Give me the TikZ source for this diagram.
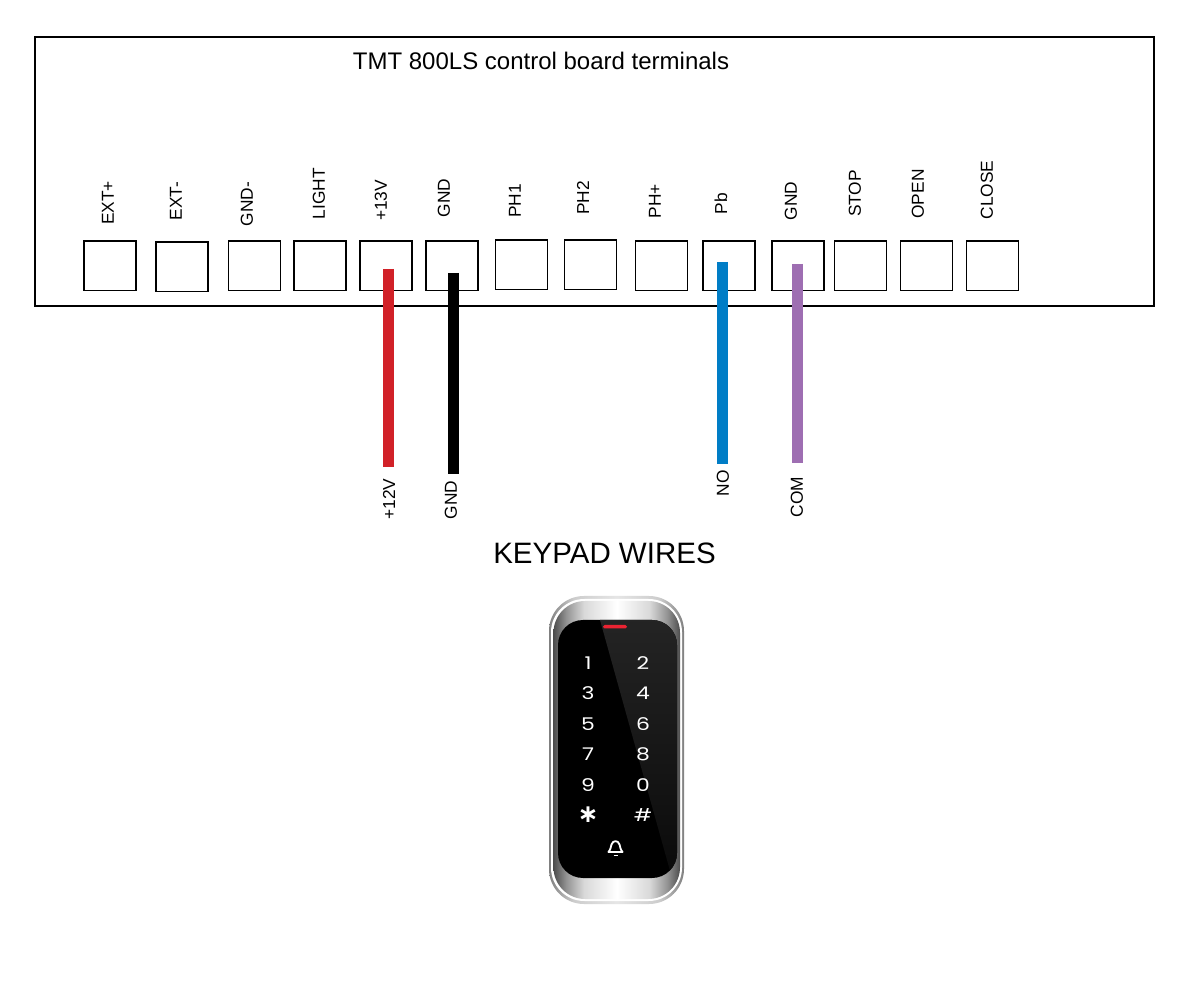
\documentclass[tikz,border=0pt]{standalone}
\usepackage{fontspec}
\setmainfont{Liberation Sans}
\newfontfamily\keyfont{Poppins}
\newfontfamily\starfont{DejaVu Sans}
\usepackage{tikz}
\usetikzlibrary{positioning}
\definecolor{wirered}{RGB}{209,33,40}
\definecolor{wireblue}{RGB}{0,125,198}
\definecolor{wirepurple}{RGB}{158,110,178}
\definecolor{ledred}{RGB}{235,35,50}
\pgfdeclarehorizontalshading{chrome}{100bp}{color(0bp)=(black!70); color(25bp)=(black!70); color(30bp)=(gray!85); color(37bp)=(gray!30); color(50bp)=(white); color(63bp)=(gray!30); color(70bp)=(gray!85); color(75bp)=(black!70); color(100bp)=(black!70)}
\pgfdeclarehorizontalshading{chromerim}{100bp}{color(0bp)=(gray); color(25bp)=(gray); color(34bp)=(gray!40); color(50bp)=(gray!20); color(66bp)=(gray!40); color(75bp)=(gray); color(100bp)=(gray)}

\begin{document}
\begin{tikzpicture}[
                x=0.6pt, y=-0.6pt, % Pixels of the reference
                terminal/.style={draw, line width=1pt, minimum width=31.2pt, minimum height=29.6pt, inner sep=0pt, outer sep=0pt}, % Terminal box
                termlabel/.style={rotate=90, font=\fontsize{10.4}{12}\selectfont, inner sep=0pt}, % Upright labels
                wire/.style={line width=6.8pt}, % Keypad wires
                keylabel/.style={white, font=\keyfont\fontsize{10.5}{12}\selectfont, xscale=1.25, inner sep=0pt} % Keypad legends
                ]
                \fill[white] (0,0) rectangle (1200,1000);
                \useasboundingbox (0,0) rectangle (1200,1000);

                \node[draw, line width=1pt, minimum width=671.4pt, minimum height=161.4pt, inner sep=0pt] (board) at (594.5,171.5) {};
                \node[font=\fontsize{14.4}{18}\selectfont, inner sep=0pt] (title) at (541,61) {TMT 800LS control board terminals};

                % Terminals with their labels
                \foreach \tname/\tx/\ty/\ttext/\lx/\ly in {
                    extp/110/266/EXT+/108/203, extm/182/267/EXT-/176/201, gndm/254.5/266/GND-/247/204,
                    light/320/266/LIGHT/319/193.5, vcc/386/266/+13V/381/200.5, gnda/452/266/GND/444/198,
                    pha/521.5/265/PH1/515/201, phb/590.5/265/PH2/583/198, php/661.5/266/PH+/655/201,
                    pb/729/266/Pb/721/203.5, gndb/798/266/GND/791/201, stopk/860.5/266/STOP/855/193.5,
                    openk/926.5/266/OPEN/918/194, closek/992.5/266/CLOSE/987/190} {
                    \node[terminal] (\tname) at (\tx,\ty) {};
                    \node[termlabel] (\tname label) at (\lx,\ly) {\ttext};
                }

                % Wires
                \coordinate (redtop) at (388.5,269);
                \coordinate (redend) at (388.5,467);
                \coordinate (blacktop) at (453.3,273);
                \coordinate (blackend) at (453.3,474);
                \coordinate (bluetop) at (722.5,262);
                \coordinate (blueend) at (722.5,464);
                \coordinate (purpletop) at (797.5,264);
                \coordinate (purpleend) at (797.5,463);
                \draw[wire, draw=wirered] (redtop) -- (redend);
                \draw[wire, draw=black] (blacktop) -- (blackend);
                \draw[wire, draw=wireblue] (bluetop) -- (blueend);
                \draw[wire, draw=wirepurple] (purpletop) -- (purpleend);

                \node[termlabel] (redlabel) at (389,499) {+12V};
                \node[termlabel] (blacklabel) at (451,500) {GND};
                \node[termlabel] (bluelabel) at (723,483.5) {NO};
                \node[termlabel] (purplelabel) at (797,497) {COM};

                \node[font=\fontsize{17.7}{20}\selectfont, inner sep=0pt] (wirestitle) at (604.5,553) {KEYPAD WIRES};

                % Keypad body
                \shade[rounded corners=21pt, shading=chromerim] (549,596) rectangle (684,904);
                \fill[rounded corners=20pt, white] (551,599) rectangle (682,901);
                \shade[rounded corners=19pt, shading=chrome] (553.5,601) rectangle (680,899);
                \fill[rounded corners=15pt, black] (558,620) rectangle (677,878);
                \begin{scope}
                    \clip[rounded corners=15pt] (558,620) rectangle (677,878);
                    \shade[top color=black!86, bottom color=black!96] (600,620) -- (677,620) -- (677,878) -- (672,878) -- cycle;
                \end{scope}
                \fill[rounded corners=1pt, ledred] (603,625) rectangle (627,628.5);

                % Keypad legends
                \foreach \kname/\kx/\ky/\ktext in {
                    keya/588/663/1, keyb/643/663/2, keyc/588/693/3, keyd/643/693/4,
                    keye/588/724/5, keyf/643/724/6, keyg/588/754/7, keyh/643/754/8,
                    keyi/588/785/9, keyj/643/785/0, keyl/643/815/\#} {
                    \node[keylabel] (\kname) at (\kx,\ky) {\ktext};
                }
                \node[keylabel, xscale=1/1.25, font=\starfont\bfseries\fontsize{15}{15}\selectfont] (keyk) at (588,815) {∗};

                % Bell
                \draw[white, line width=1.1pt, line join=round] (608.5,852) .. controls (611,849) and (610.5,847) .. (611.5,844.5) .. controls (613,840) and (618,840) .. (619.5,844.5) .. controls (620.5,847) and (620,849) .. (622.5,852) -- cycle;
                \draw[white, line width=1.1pt] (613.5,855.5) -- (617.5,855.5);
            \end{tikzpicture}
\end{document}
